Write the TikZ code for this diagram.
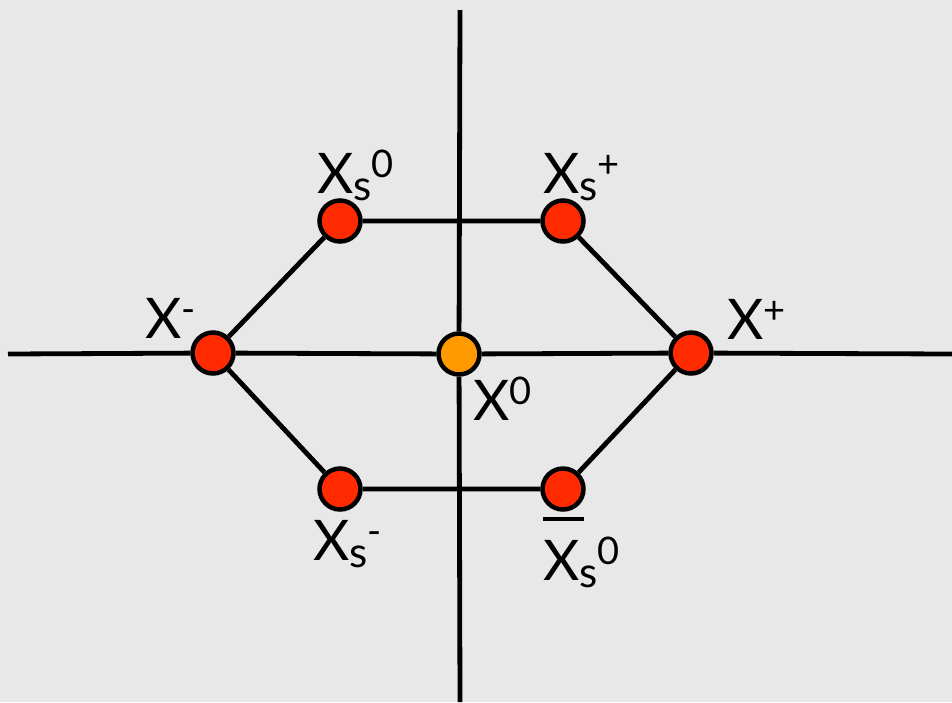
\documentclass[tikz,border=0pt]{standalone}
\usepackage{fontspec}
\setmainfont{Lato}
\definecolor{bgc}{RGB}{232,232,232}
\definecolor{redc}{RGB}{255,42,0}
\definecolor{orc}{RGB}{255,153,0}
\newcommand{\smf}{\fontsize{38}{42}\selectfont}
\newcommand{\subf}{\fontsize{42}{46}\selectfont}
\newcommand{\lsub}[1]{\raisebox{-0.13em}{\subf #1}}
\newcommand{\lsup}[1]{\raisebox{0.28em}{\smf #1}}
\newcommand{\barX}{\leavevmode\rlap{\raisebox{1.05em}{\rule{0.73em}{0.07em}}}X}
\tikzset{
  dot/.style={circle, draw=black, line width=4.5pt, minimum size=41pt, inner sep=0pt, fill=redc},
  odot/.style={dot, fill=orc},
  lbl/.style={anchor=base west, inner sep=0pt, font=\fontsize{56}{60}\selectfont},
  edge/.style={line width=4.8pt},
}
\begin{document}
\begin{tikzpicture}[x=1pt,y=-1pt]
\fill[bgc] (0,0) rectangle (952,702);
\useasboundingbox (0,0) rectangle (952,702);
\node[dot] (xs0) at (340,221) {};
\node[dot] (xsp) at (563,221) {};
\node[dot] (xm) at (213,353) {};
\node[odot] (x0) at (459,354) {};
\node[dot] (xp) at (691,353) {};
\node[dot] (xsm) at (340,489) {};
\node[dot] (xsb) at (563,489) {};
\coordinate (top) at (460,10);
\coordinate (bot) at (460,702);
\coordinate (left) at (8,354);
\coordinate (right) at (952,354);
\draw[edge] (top) -- (x0) -- (bot);
\draw[edge] (left) -- (xm) -- (x0) -- (xp) -- (right);
\draw[edge] (xs0) -- (xsp) -- (xp) -- (xsb) -- (xsm) -- (xm) -- (xs0);
\node[lbl] (l1) at (317,193) {X\lsub{s}\lsup{0}};
\node[lbl] (l2) at (543,193) {X\lsub{s}\lsup{+}};
\node[lbl] (l3) at (145,338) {X\lsup{-}};
\node[lbl] (l4) at (473,420) {X\lsup{0}};
\node[lbl] (l5) at (727,339) {X\lsup{+}};
\node[lbl] (l6) at (313,560) {X\lsub{s}\lsup{-}};
\node[lbl] (l7) at (543,580) {\barX\lsub{s}\lsup{0}};
\end{tikzpicture}
\end{document}
